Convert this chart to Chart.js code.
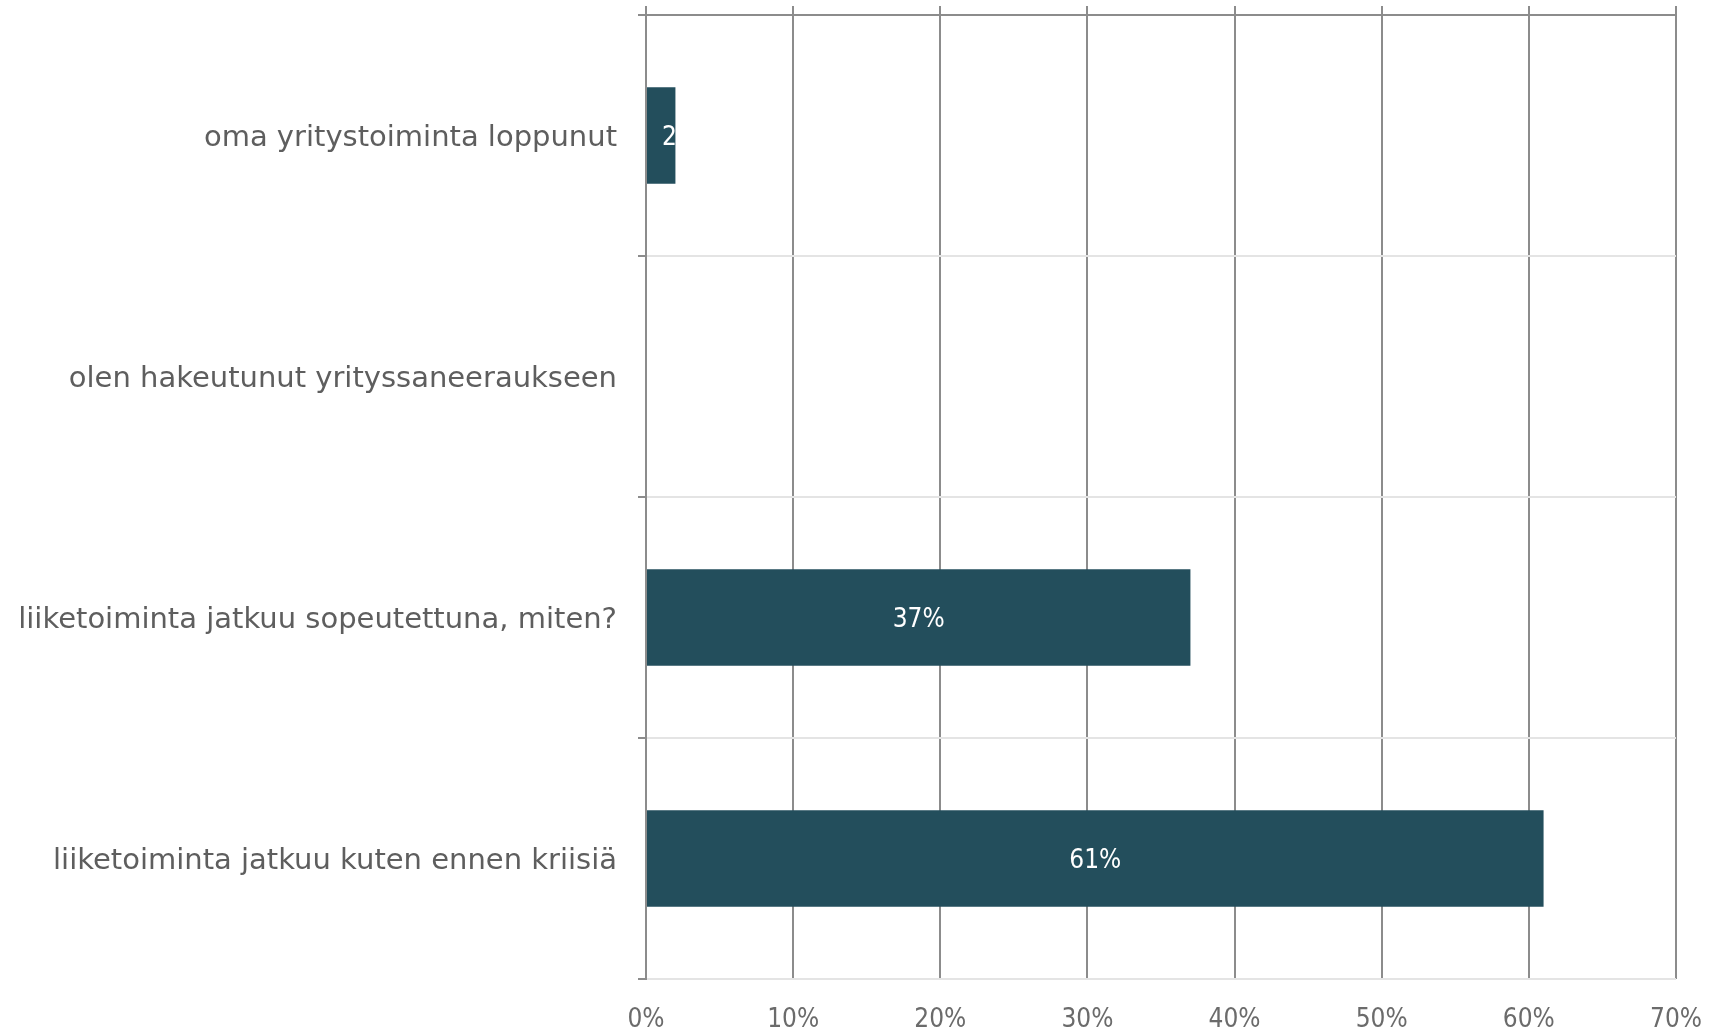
<!DOCTYPE html>
<html>
<head>
<meta charset="utf-8">
<script src="https://cdn.jsdelivr.net/npm/chart.js@4"></script>
<style>
  html, body { margin: 0; padding: 0; background: #fff; }
  #wrap { width: 1711px; height: 1033px; }
</style>
</head>
<body>
<div id="wrap"><canvas id="c" width="1711" height="1033"></canvas></div>
<script>
const categories = [
  'oma yritystoiminta loppunut',
  'olen hakeutunut yrityssaneeraukseen',
  'liiketoiminta jatkuu sopeutettuna, miten?',
  'liiketoiminta jatkuu kuten ennen kriisiä'
];
const values = [2, 0, 37, 61];
const tickValues = [0, 10, 20, 30, 40, 50, 60, 70];

const FONT = "'DejaVu Sans Condensed', 'DejaVu Sans', sans-serif";
const LABEL_FONT = "'DejaVu Sans', sans-serif";
const barColor = '#234e5c';

// white value labels inside bars, clipped to the bar
const barLabels = {
  id: 'barLabels',
  afterDatasetsDraw(chart) {
    const ctx = chart.ctx;
    const meta = chart.getDatasetMeta(0);
    meta.data.forEach((bar, i) => {
      const v = values[i];
      if (!v) return;
      const txt = v + '%';
      ctx.save();
      ctx.font = '26px ' + FONT;
      const w = ctx.measureText(txt).width;
      const left = Math.min(bar.base, bar.x);
      const right = Math.max(bar.base, bar.x);
      const top = bar.y - bar.height / 2;
      ctx.beginPath();
      ctx.rect(left, top, right - left, bar.height);
      ctx.clip();
      let cx = (left + right) / 2;
      cx = Math.max(cx, left + 15 + w / 2);
      ctx.fillStyle = '#ffffff';
      ctx.textAlign = 'center';
      ctx.textBaseline = 'middle';
      ctx.fillText(txt, cx, bar.y + 3);
      ctx.restore();
    });
  }
};

new Chart(document.getElementById('c'), {
  type: 'bar',
  data: {
    labels: categories,
    datasets: [{
      data: values,
      backgroundColor: barColor,
      barPercentage: 0.4,
      categoryPercentage: 1
    }]
  },
  options: {
    indexAxis: 'y',
    responsive: false,
    animation: false,
    layout: { padding: { left: 0, right: 35, top: 6, bottom: 0 } },
    plugins: { legend: { display: false }, tooltip: { enabled: false } },
    scales: {
      x: {
        min: 0, max: 70,
        afterBuildTicks(s) { s.ticks = tickValues.map(v => ({ value: v })); },
        afterFit(s) { s.height = 54; s.paddingLeft = 0; s.paddingRight = 0; },
        grid: { color: '#8c8c8c', lineWidth: 2, drawTicks: false },
        border: { display: false },
        ticks: {
          color: '#6b6b6b', padding: 26,
          font: { family: FONT, size: 26 },
          callback: v => v + '%'
        }
      },
      x2: {
        position: 'top',
        min: 0, max: 70,
        afterBuildTicks(s) { s.ticks = tickValues.map(v => ({ value: v })); },
        afterFit(s) { s.height = 9; s.paddingLeft = 0; s.paddingRight = 0; },
        grid: { drawOnChartArea: false, color: '#8c8c8c', lineWidth: 2, tickLength: 9 },
        border: { color: '#8c8c8c', width: 2 },
        ticks: { display: false }
      },
      y: {
        afterFit(s) { s.width = 646; s.paddingTop = 0; s.paddingBottom = 0; },
        grid: { color: '#e4e4e4', lineWidth: 2, tickColor: '#8c8c8c', tickLength: 8, offset: true },
        border: { color: '#8c8c8c', width: 2 },
        ticks: {
          color: '#5e5e5e', padding: 21, labelOffset: 3,
          font: { family: LABEL_FONT, size: 29 }
        }
      }
    }
  },
  plugins: [barLabels]
});
</script>
</body>
</html>
